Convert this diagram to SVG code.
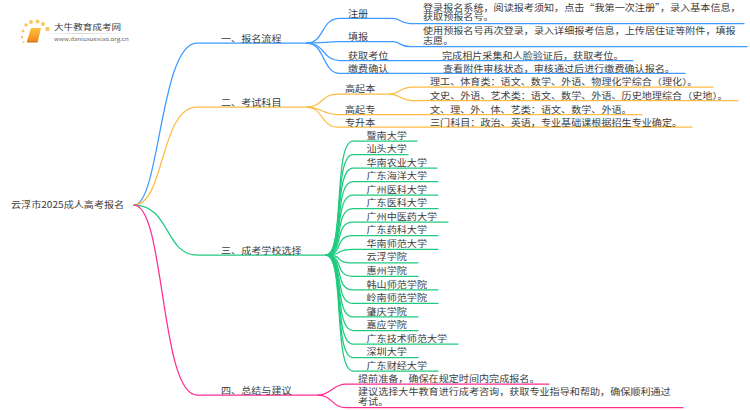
<svg xmlns="http://www.w3.org/2000/svg" width="750" height="410" viewBox="0 0 750 410">
<defs>
<linearGradient id="book" x1="0" y1="0" x2="0" y2="1"><stop offset="0" stop-color="#ffc23d"/><stop offset="1" stop-color="#f08a1d"/></linearGradient>
<linearGradient id="rule" x1="0" y1="0" x2="1" y2="0"><stop offset="0" stop-color="#ccc" stop-opacity="0"/><stop offset=".4" stop-color="#ccc"/><stop offset="1" stop-color="#ccc" stop-opacity="0"/></linearGradient>
</defs>
<style>
text{font-family:"Noto Sans CJK SC","Noto Sans",sans-serif;font-size:10.1px;fill:#3c3c3c;transform-box:fill-box;transform-origin:center;transform:scaleY(.86)}
.c{fill:none;stroke-width:1.25;stroke-linecap:round}
.b{stroke:#3f9bff}.o{stroke:#fbbd45}.g{stroke:#1fcb80}.p{stroke:#ff2d92}
</style>
<rect width="750" height="410" fill="#fff"/>
<g id="logo">
<g fill="#fbc75a"><circle cx="23" cy="31" r="1.5"/><circle cx="22" cy="37" r="1.2"/><circle cx="26" cy="25" r="1.7"/><circle cx="31" cy="22" r="2"/><circle cx="37.500" cy="21.500" r="2"/><circle cx="43" cy="24" r="2"/><circle cx="47.500" cy="29" r="2.300"/><circle cx="23.500" cy="42" r="1"/></g>
<path d="M31 28h10l-3 13h-11z" fill="url(#book)"/><path d="M27 41h11l-.6 1.500h-10.600z" fill="#d9761a"/>
<text x="54" y="31" style="font-size:9.600px">大牛教育成考网</text>
<rect x="45" y="33" width="88" height=".8" fill="url(#rule)"/>
<text x="54" y="41.500" style="font-size:6.200px;fill:#666">www.daniuxuexiao.org.cn</text>
</g>
<g id="connectors">
<path class="c b" d="M134 205C160 205 160 43 197 43H307"/>
<path class="c o" d="M134 205C165 205 160 107 197 107H307"/>
<path class="c g" d="M134 205C170 205 165 255 197 255H326"/>
<path class="c p" d="M134 205C165 205 160 395 197 395H318"/>
<path class="c b" d="M307 43C325 43 320 18.300 340 18.300H393C400 18.300 400 23.500 410 23.500H744"/>
<path class="c b" d="M307 43C325 43 325 41.700 340 41.700H393C400 41.700 400 46.700 410 46.700H747"/>
<path class="c b" d="M307 43C325 43 322 60.500 340 60.500H633"/>
<path class="c b" d="M307 43C325 43 322 73.300 340 73.300H685"/>
<path class="c o" d="M307 107C322 107 322 94 337 94H390C400 94 400 87 412 87H713"/>
<path class="c o" d="M390 94C400 94 400 100.500 412 100.500H738"/>
<path class="c o" d="M307 107C322 107 322 114.500 337 114.500H642"/>
<path class="c o" d="M307 107C322 107 322 127 337 127H692"/>
<path class="c g" d="M326 255C345 255 333 141 353 141H417"/>
<path class="c g" d="M326 255C345 255 333 154.500 353 154.500H408"/>
<path class="c g" d="M326 255C345 255 333 168 353 168H437"/>
<path class="c g" d="M326 255C345 255 333 181.600 353 181.600H438"/>
<path class="c g" d="M326 255C345 255 333 195.100 353 195.100H438"/>
<path class="c g" d="M326 255C345 255 333 208.700 353 208.700H438"/>
<path class="c g" d="M326 255C345 255 333 222.200 353 222.200H448"/>
<path class="c g" d="M326 255C345 255 333 235.700 353 235.700H438"/>
<path class="c g" d="M326 255C345 255 333 249.300 353 249.300H438"/>
<path class="c g" d="M326 255C345 255 333 262.800 353 262.800H418"/>
<path class="c g" d="M326 255C345 255 333 276.300 353 276.300H418"/>
<path class="c g" d="M326 255C345 255 333 289.900 353 289.900H438"/>
<path class="c g" d="M326 255C345 255 333 303.400 353 303.400H438"/>
<path class="c g" d="M326 255C345 255 333 316.900 353 316.900H418"/>
<path class="c g" d="M326 255C345 255 333 330.500 353 330.500H418"/>
<path class="c g" d="M326 255C345 255 333 344 353 344H458"/>
<path class="c g" d="M326 255C345 255 333 357.500 353 357.500H418"/>
<path class="c g" d="M326 255C345 255 333 371 353 371H438"/>
<path class="c p" d="M318 395C332 395 332 384 346 384H549"/>
<path class="c p" d="M318 395C332 395 332 407.700 346 407.700H683"/>
</g>
<g id="root"><text x="11" y="208.500">云浮市2025成人高考报名</text></g>
<g id="n1"><text x="221" y="42.500">一、报名流程</text>
<g id="n1a"><text x="348" y="17.500">注册</text><text x="423" y="10.700">登录报名系统，阅读报考须知，点击“我第一次注册”，录入基本信息，<tspan x="423" dy="10.800">获取预报名号。</tspan></text></g>
<g id="n1b"><text x="348" y="40.500">填报</text><text x="423" y="34.300">使用预报名号再次登录，录入详细报考信息，上传居住证等附件，填报<tspan x="423" dy="10.800">志愿。</tspan></text></g>
<g id="n1c"><text x="348" y="59.500">获取考位</text><text x="442" y="59.500">完成相片采集和人脸验证后，获取考位。</text></g>
<g id="n1d"><text x="348" y="72.500">缴费确认</text><text x="443" y="72.500">查看附件审核状态，审核通过后进行缴费确认报名。</text></g></g>
<g id="n2"><text x="221" y="106.500">二、考试科目</text>
<g id="n2a"><text x="345" y="92.500">高起本</text><text x="430" y="86">理工、体育类：语文、数学、外语、物理化学综合（理化）。</text><text x="430" y="99.500">文史、外语、艺术类：语文、数学、外语、历史地理综合（史地）。</text></g>
<g id="n2b"><text x="345" y="113.500">高起专</text><text x="430" y="113.500">文、理、外、体、艺类：语文、数学、外语。</text></g>
<g id="n2c"><text x="345" y="126.500">专升本</text><text x="430" y="126.500">三门科目：政治、英语，专业基础课根据招生专业确定。</text></g></g>
<g id="n3"><text x="221" y="254.500">三、成考学校选择</text>
<g id="schools"><text x="366.500" y="139.500">暨南大学</text><text x="366.500" y="153">汕头大学</text><text x="366.500" y="166.500">华南农业大学</text><text x="366.500" y="180">广东海洋大学</text><text x="366.500" y="193.500">广州医科大学</text><text x="366.500" y="207">广东医科大学</text><text x="366.500" y="220.500">广州中医药大学</text><text x="366.500" y="234">广东药科大学</text><text x="366.500" y="247.500">华南师范大学</text><text x="366.500" y="261">云浮学院</text><text x="366.500" y="275">惠州学院</text><text x="366.500" y="288.500">韩山师范学院</text><text x="366.500" y="302">岭南师范学院</text><text x="366.500" y="315.500">肇庆学院</text><text x="366.500" y="329">嘉应学院</text><text x="366.500" y="342.500">广东技术师范大学</text><text x="366.500" y="356">深圳大学</text><text x="366.500" y="369.500">广东财经大学</text></g></g>
<g id="n4"><text x="221" y="394.500">四、总结与建议</text>
<g id="n4a"><text x="358" y="382.500">提前准备，确保在规定时间内完成报名。</text></g>
<g id="n4b"><text x="358" y="395.300">建议选择大牛教育进行成考咨询，获取专业指导和帮助，确保顺利通过<tspan x="358" dy="10.800">考试。</tspan></text></g></g>
</svg>
